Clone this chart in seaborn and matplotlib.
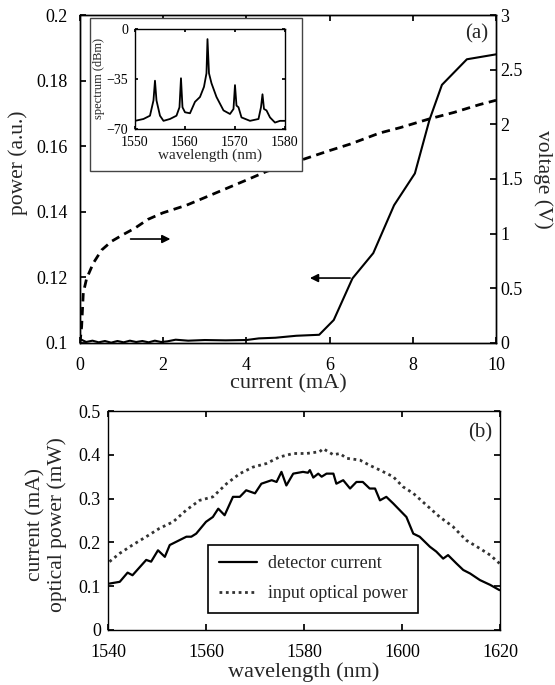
import matplotlib
matplotlib.use("Agg")
import matplotlib.pyplot as plt
import matplotlib.ticker as mticker
from matplotlib.patches import Rectangle
import seaborn as sns

# panel (a): light-current curve
current_ma = [0.0, 0.15, 0.3, 0.45, 0.6, 0.75, 0.9, 1.05, 1.2, 1.35, 1.5, 1.65, 1.8, 1.95,
              2.1, 2.3, 2.6, 3.0, 3.5, 4.0, 4.3, 4.7, 5.2, 5.75, 6.1, 6.55, 7.05, 7.55,
              8.05, 8.4, 8.7, 9.3, 10.0]
power_au = [0.1012, 0.1003, 0.1007, 0.1002, 0.1006, 0.1001, 0.1006, 0.1002, 0.1007, 0.1003,
            0.1006, 0.1002, 0.1007, 0.1003, 0.1005, 0.1010, 0.1007, 0.1009, 0.1008, 0.1009,
            0.1014, 0.1016, 0.1022, 0.1025, 0.1070, 0.1197, 0.1274, 0.1420, 0.1517, 0.1680,
            0.1787, 0.1865, 0.1880]

# panel (a): voltage-current curve
current_v = [0.0, 0.04, 0.08, 0.16, 0.32, 0.52, 0.76, 1.03, 1.32, 1.63, 1.99, 2.56, 3.0,
             3.5, 4.0, 4.49, 5.37, 6.0, 6.5, 7.2, 7.7, 8.4, 9.0, 9.6, 10.0]
voltage = [0.0, 0.15, 0.46, 0.59, 0.73, 0.85, 0.93, 0.99, 1.05, 1.13, 1.19, 1.26, 1.33,
           1.41, 1.49, 1.57, 1.68, 1.76, 1.82, 1.92, 1.97, 2.05, 2.11, 2.18, 2.22]

# inset: lasing spectrum
spec_wl = [1550.0, 1551.7, 1553.0, 1553.7, 1554.0, 1554.3, 1555.0, 1555.7, 1557.0, 1558.3,
           1558.9, 1559.2, 1559.5, 1560.0, 1561.0, 1562.0, 1563.0, 1563.8, 1564.3, 1564.5,
           1564.8, 1565.3, 1566.3, 1567.7, 1569.0, 1569.7, 1570.0, 1570.3, 1570.7, 1571.3,
           1573.0, 1574.7, 1575.2, 1575.5, 1575.8, 1576.3, 1577.0, 1578.0, 1579.0, 1580.0]
spec_dbm = [-64.3, -63.0, -60.7, -50.0, -36.2, -50.0, -60.7, -64.3, -63.0, -60.7,
            -54.8, -34.5, -54.8, -58.3, -59.0, -51.0, -47.6, -40.5, -31.0, -7.1,
            -31.0, -38.0, -47.6, -57.0, -59.5, -56.0, -39.3, -53.6, -54.8, -61.9,
            -64.3, -63.0, -54.8, -45.7, -56.0, -57.0, -61.9, -65.5, -64.3, -64.3]

# panel (b): detector current
det_wl = [1540.3, 1542.4, 1544.0, 1545.0, 1547.8, 1548.8, 1550.2, 1551.6, 1552.6, 1556.0,
          1557.0, 1558.0, 1560.0, 1561.4, 1562.5, 1563.8, 1565.5, 1566.9, 1568.2, 1570.0,
          1571.3, 1573.4, 1574.4, 1575.4, 1576.4, 1577.8, 1579.8, 1580.8, 1581.2, 1581.9,
          1582.9, 1583.6, 1584.6, 1586.0, 1586.6, 1588.0, 1589.4, 1590.7, 1592.0, 1593.4,
          1594.5, 1595.5, 1596.8, 1598.2, 1600.2, 1600.9, 1602.3, 1603.6, 1605.7, 1607.0,
          1608.4, 1609.4, 1611.1, 1612.5, 1613.9, 1615.9, 1618.0, 1619.9]
det_current = [0.106, 0.110, 0.131, 0.125, 0.160, 0.156, 0.182, 0.167, 0.194, 0.213,
               0.213, 0.220, 0.247, 0.258, 0.277, 0.262, 0.304, 0.304, 0.319, 0.312,
               0.334, 0.342, 0.338, 0.361, 0.330, 0.357, 0.361, 0.359, 0.365, 0.348,
               0.357, 0.350, 0.357, 0.357, 0.334, 0.342, 0.323, 0.338, 0.338, 0.323,
               0.323, 0.296, 0.304, 0.289, 0.266, 0.258, 0.220, 0.213, 0.190, 0.179,
               0.163, 0.171, 0.152, 0.137, 0.129, 0.114, 0.103, 0.091]

# panel (b): input optical power
opt_wl = [1540.3, 1542.4, 1545.0, 1547.8, 1550.5, 1553.3, 1556.0, 1558.7, 1561.4, 1564.2,
          1566.9, 1569.6, 1572.3, 1575.0, 1577.8, 1580.5, 1583.2, 1583.9, 1586.0, 1587.3,
          1588.7, 1591.4, 1593.4, 1595.5, 1598.2, 1600.2, 1602.3, 1605.0, 1607.7, 1610.4,
          1613.1, 1615.9, 1618.0, 1619.9]
opt_power = [0.156, 0.175, 0.194, 0.213, 0.232, 0.247, 0.274, 0.296, 0.304, 0.334,
             0.357, 0.372, 0.380, 0.395, 0.403, 0.403, 0.407, 0.414, 0.400, 0.403,
             0.392, 0.388, 0.376, 0.365, 0.350, 0.327, 0.312, 0.285, 0.258, 0.236,
             0.205, 0.186, 0.171, 0.152]

sns.set_theme(style="ticks")
plt.rcParams['font.family'] = ['Liberation Serif', 'DejaVu Serif']
plt.rcParams['axes.edgecolor'] = 'black'
plt.rcParams['axes.linewidth'] = 1.0
plt.rcParams['xtick.color'] = 'black'
plt.rcParams['ytick.color'] = 'black'

fig = plt.figure(figsize=(5.55, 6.85), dpi=100)

# ---- panel (a) ----
ax = fig.add_axes([0.1441, 0.4993, 0.7496, 0.4788])
ax2 = ax.twinx()
sns.lineplot(x=current_ma, y=power_au, ax=ax, color='black', lw=1.5,
             estimator=None, sort=False)
sns.lineplot(x=current_v, y=voltage, ax=ax2, color='black', lw=2.0,
             estimator=None, sort=False, linestyle=(0, (3, 2)))
ax.set_xlim(0, 10)
ax.set_ylim(0.1, 0.2)
ax2.set_ylim(0, 3)
ax.set_xticks([0, 2, 4, 6, 8, 10])
ax.set_yticks([0.1, 0.12, 0.14, 0.16, 0.18, 0.2])
ax2.set_yticks([0, 0.5, 1, 1.5, 2, 2.5, 3])
for a in (ax, ax2):
    a.yaxis.set_major_formatter(mticker.FormatStrFormatter('%g'))
ax.tick_params(axis='both', direction='in', length=4, labelsize=13, top=True, right=False)
ax.tick_params(axis='y', pad=9)
ax.tick_params(axis='x', pad=10)
ax2.tick_params(axis='y', direction='in', length=4, labelsize=13, pad=3)
ax.set_xlabel('current (mA)', fontsize=16, labelpad=0)
ax.set_ylabel('power (a.u.)', fontsize=15.5)
ax.yaxis.set_label_coords(-0.125, 0.55)
ax2.set_ylabel('voltage (V)', fontsize=15.5, rotation=270, labelpad=22)
ax.text(0.954, 0.944, '(a)', transform=ax.transAxes, fontsize=15, ha='center', va='center')
ax.annotate('', xy=(5.46, 0.1198), xytext=(6.56, 0.1198),
            arrowprops=dict(arrowstyle='-|>', color='black', lw=1.2, mutation_scale=12))
ax.annotate('', xy=(2.24, 0.1317), xytext=(1.15, 0.1317),
            arrowprops=dict(arrowstyle='-|>', color='black', lw=1.2, mutation_scale=12))

# inset frame and inset axes
fig.add_artist(Rectangle((0.1622, 0.7504), 0.3819, 0.2233, transform=fig.transFigure,
                         facecolor='white', edgecolor='#444444', lw=1.0, zorder=3))
axi = fig.add_axes([0.2432, 0.8117, 0.2703, 0.1460], zorder=4)
sns.lineplot(x=spec_wl, y=spec_dbm, ax=axi, color='black', lw=1.3,
             estimator=None, sort=False)
axi.set_xlim(1550, 1580)
axi.set_ylim(-70, 0)
axi.set_xticks([1550, 1560, 1570, 1580])
axi.set_yticks([-70, -35, 0])
axi.tick_params(direction='in', length=2.5, labelsize=10, top=True, right=True)
axi.tick_params(axis='x', pad=5)
axi.tick_params(axis='y', pad=5)
axi.set_xlabel('wavelength (nm)', fontsize=11, labelpad=0)
axi.set_ylabel('spectrum (dBm)', fontsize=9, labelpad=1)

# ---- panel (b) ----
bx = fig.add_axes([0.1946, 0.0803, 0.7063, 0.3197])
sns.lineplot(x=det_wl, y=det_current, ax=bx, color='black', lw=1.6,
             estimator=None, sort=False, label='detector current')
sns.lineplot(x=opt_wl, y=opt_power, ax=bx, color='#333333', lw=2.0,
             estimator=None, sort=False, linestyle=(0, (1, 1.3)), label='input optical power')
bx.set_xlim(1540, 1620)
bx.set_ylim(0, 0.5)
bx.set_xticks([1540, 1560, 1580, 1600, 1620])
bx.set_yticks([0, 0.1, 0.2, 0.3, 0.4, 0.5])
bx.yaxis.set_major_formatter(mticker.FormatStrFormatter('%g'))
bx.tick_params(direction='in', length=4, labelsize=13, top=True, right=True)
bx.tick_params(axis='y', pad=5)
bx.tick_params(axis='x', pad=10)
bx.set_xlabel('wavelength (nm)', fontsize=16, labelpad=1)
bx.set_ylabel('current (mA)\noptical power (mW)', fontsize=15.5, linespacing=1.1)
bx.yaxis.set_label_coords(-0.105, 0.48)
bx.text(0.949, 0.9, '(b)', transform=bx.transAxes, fontsize=15, ha='center', va='center')
leg = bx.legend(loc='lower left', bbox_to_anchor=(0.255, 0.078), fontsize=13,
                frameon=True, fancybox=False, framealpha=1, edgecolor='black',
                borderpad=0.6, labelspacing=0.7, handlelength=2.1, handletextpad=0.6,
                borderaxespad=0)
leg.get_frame().set_linewidth(1.2)

fig.savefig('out.png', dpi=100)
